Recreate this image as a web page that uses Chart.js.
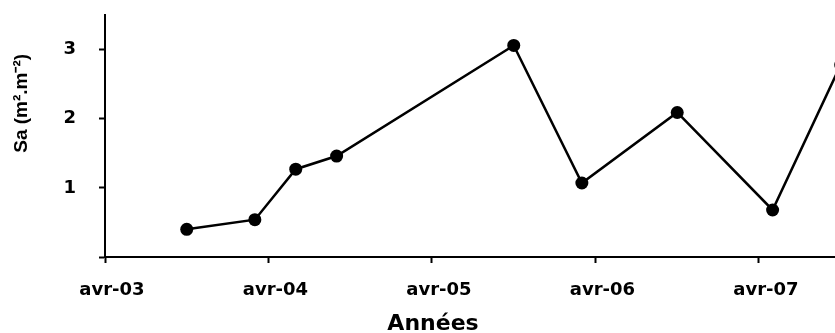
<!DOCTYPE html>
<html><head><meta charset="utf-8">
<script src="https://cdn.jsdelivr.net/npm/chart.js@4.4.0/dist/chart.umd.min.js"></script>
<style>html,body{margin:0;padding:0;background:#fff;}#wrap{width:835px;height:333px;}</style>
</head><body><div id="wrap"><canvas id="c" width="835" height="333"></canvas></div>
<script>
// months since April 2003
const months = [6, 11, 14, 17, 30, 35, 42, 49, 54];
const sa = [0.40, 0.54, 1.27, 1.46, 3.06, 1.07, 2.09, 0.68, 2.78];
const xTickValues = [0, 12, 24, 36, 48];
const xTickLabels = ['avr-03', 'avr-04', 'avr-05', 'avr-06', 'avr-07'];
const yTickValues = [0, 1, 2, 3];
const yTickLabels = ['', '1', '2', '3'];
const xTitle = 'Années';
const yTitle = 'Sa (m².m⁻²)';

const titlePlugin = {
  id: 'axisTitles',
  afterDraw(chart) {
    const ctx = chart.ctx;
    const ca = chart.chartArea;
    ctx.save();
    ctx.fillStyle = '#000';
    ctx.textAlign = 'center';
    ctx.textBaseline = 'alphabetic';
    ctx.font = 'bold 22px "DejaVu Sans"';
    ctx.fillText(xTitle, 433, 330);
    ctx.translate(27, ca.top + (ca.bottom - ca.top) * 0.365);
    ctx.rotate(-Math.PI / 2);
    ctx.font = 'bold 19px "Liberation Sans"';
    ctx.fillText(yTitle, 0, 0);
    ctx.restore();
  }
};

new Chart(document.getElementById('c'), {
  type: 'line',
  data: { datasets: [{
    data: months.map((m, i) => ({ x: m, y: sa[i] })),
    borderColor: '#000', backgroundColor: '#000', borderWidth: 2.5,
    pointRadius: 6.5, pointBackgroundColor: '#000', pointBorderWidth: 0,
    tension: 0, clip: false
  }]},
  plugins: [titlePlugin],
  options: {
    responsive: false, animation: false, devicePixelRatio: 1,
    layout: { autoPadding: false, padding: { top: 15, right: 0, left: 0, bottom: 0 } },
    plugins: { legend: { display: false }, tooltip: { enabled: false } },
    scales: {
      x: {
        type: 'linear', min: 0, max: 53.58,
        afterBuildTicks: s => { s.ticks = xTickValues.map(v => ({ value: v })); },
        afterFit: s => { s.height = 76; s.paddingLeft = 0; s.paddingRight = 0; },
        border: { display: true, color: '#000', width: 2 },
        grid: { drawOnChartArea: false, drawTicks: true, tickLength: 6, tickColor: '#000', tickWidth: 2 },
        ticks: { color: '#000', font: { family: 'DejaVu Sans', weight: 'bold', size: 18 }, padding: 17,
                 labelOffset: 7, maxRotation: 0, autoSkip: false,
                 callback: v => xTickLabels[xTickValues.indexOf(v)] },
        title: { display: false }
      },
      y: {
        type: 'linear', min: 0, max: 3.5,
        afterBuildTicks: s => { s.ticks = yTickValues.map(v => ({ value: v })); },
        afterFit: s => { s.width = 105; s.paddingTop = 0; s.paddingBottom = 0; },
        border: { display: true, color: '#000', width: 2 },
        grid: { drawOnChartArea: false, drawTicks: true, tickLength: 6, tickColor: '#000', tickWidth: 2 },
        ticks: { color: '#000', font: { family: 'DejaVu Sans', weight: 'bold', size: 18 }, padding: 23,
                 callback: v => yTickLabels[yTickValues.indexOf(v)] },
        title: { display: false }
      }
    }
  }
});
</script></body></html>
